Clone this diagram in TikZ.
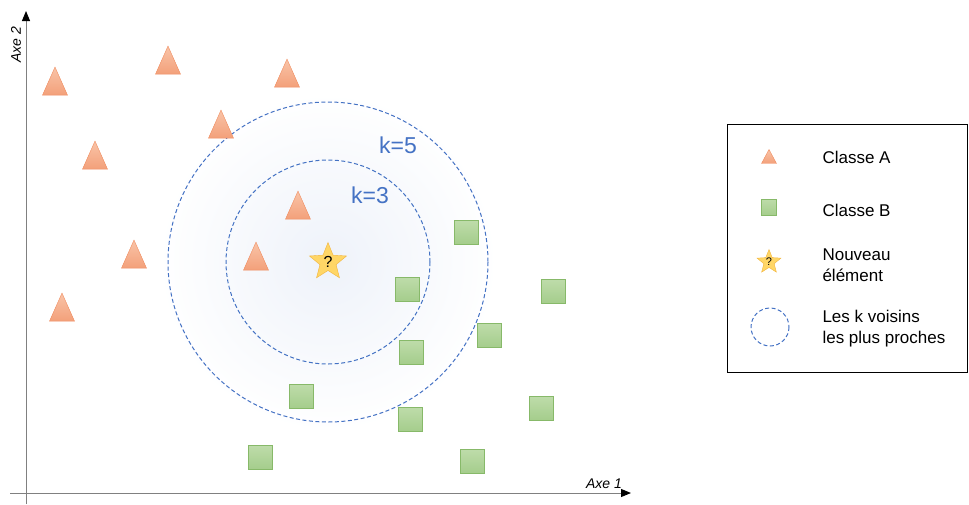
\documentclass[tikz,border=0pt]{standalone}
\usepackage{fontspec}
\setmainfont{Liberation Sans}
\usetikzlibrary{arrows.meta}
\usetikzlibrary{shapes.geometric}
\definecolor{triborder}{RGB}{240,140,95}
\definecolor{tritop}{RGB}{249,196,168}
\definecolor{tribot}{RGB}{243,160,122}
\definecolor{sqborder}{RGB}{135,185,105}
\definecolor{sqtop}{RGB}{190,220,170}
\definecolor{sqbot}{RGB}{165,205,140}
\definecolor{starfill}{RGB}{255,214,102}
\definecolor{starborder}{RGB}{242,180,60}
\definecolor{kblue}{RGB}{68,114,196}
\definecolor{axisgray}{RGB}{128,128,128}
\tikzset{%
  myaxis/.style={draw=axisgray, line width=1pt, -{Triangle[width=8pt,length=10pt,color=black]}},
  classa/.style={isosceles triangle, isosceles triangle stretches, shape border rotate=90,
    minimum width=25, minimum height=28, inner sep=0pt, draw=triborder,
    top color=tritop, bottom color=tribot},
  classb/.style={rectangle, minimum size=24, inner sep=0pt, draw=sqborder,
    top color=sqtop, bottom color=sqbot},
  newpt/.style={star, star points=5, star point ratio=2.3, inner sep=0pt,
    draw=starborder, fill=starfill},
  voisins/.style={draw=kblue, line width=1pt, dash pattern=on 4pt off 2.5pt},
  klabel/.style={text=kblue, font=\fontsize{23}{26}\selectfont},
  legtext/.style={anchor=west, align=left, font=\fontsize{17}{21}\selectfont}
}

\begin{document}
\begin{tikzpicture}[x=1pt, y=-1pt]
  \useasboundingbox (0,0) rectangle (969,504);
  % axes
  \coordinate (o) at (26,493);
  \coordinate (ybot) at (26,504);
  \coordinate (ytop) at (26,11);
  \coordinate (xleft) at (10,493);
  \coordinate (xright) at (631,493);
  \draw [myaxis] (ybot) -- (ytop);
  \draw [myaxis] (xleft) -- (xright);
  \node [rotate=90, font=\itshape\fontsize{14}{16}\selectfont] (ax2) at (16,45) {Axe 2};
  \node [font=\itshape\fontsize{14}{16}\selectfont] (ax1) at (604,484) {Axe 1};
  % neighbourhood
  \coordinate (c) at (328,262);
  \shade [inner color=kblue!9, outer color=white] (c) circle (170);
  \draw [voisins] (c) circle (102);
  \draw [voisins] (c) circle (160);
  \node [klabel] (k5) at (398,145) {k=5};
  \node [klabel] (k3) at (370,195) {k=3};
  % classe A
  \foreach \x/\y [count=\i] in {55/81, 168/60, 287/73, 221/124, 95/155,
      298/205, 134/254, 256/256, 62/307}
    \node [classa, yshift=-6pt] (a\i) at (\x,\y) {};
  % classe B
  \foreach \x/\y [count=\i] in {466/232, 407/289, 553/291, 489/335, 411/352,
      301/396, 410/419, 541/408, 260/457, 472/461}
    \node [classb] (b\i) at (\x,\y) {};
  % nouvel element
  \node [newpt, minimum size=39] (new) at (c) {\fontsize{16}{16}\selectfont ?};
  % legende
  \node [draw=black, line width=1.3pt, minimum width=240, minimum height=248,
    anchor=north west] (leg) at (727,124) {};
  \node [classa, minimum width=15, minimum height=14, yshift=-3pt] (la) at (769,156) {};
  \node [classb, minimum width=15, minimum height=16] (lb) at (769,207) {};
  \node [newpt, minimum size=25] (ls) at (769,262) {\fontsize{11}{11}\selectfont ?};
  \draw [voisins] (770,327) circle (19);
  \node [legtext] (ta) at (819,157) {Classe A};
  \node [legtext] (tb) at (819,210) {Classe B};
  \node [legtext] (ts) at (819,265) {Nouveau\\élément};
  \node [legtext] (tk) at (819,329) {Les k voisins\\les plus proches};
\end{tikzpicture}
\end{document}
